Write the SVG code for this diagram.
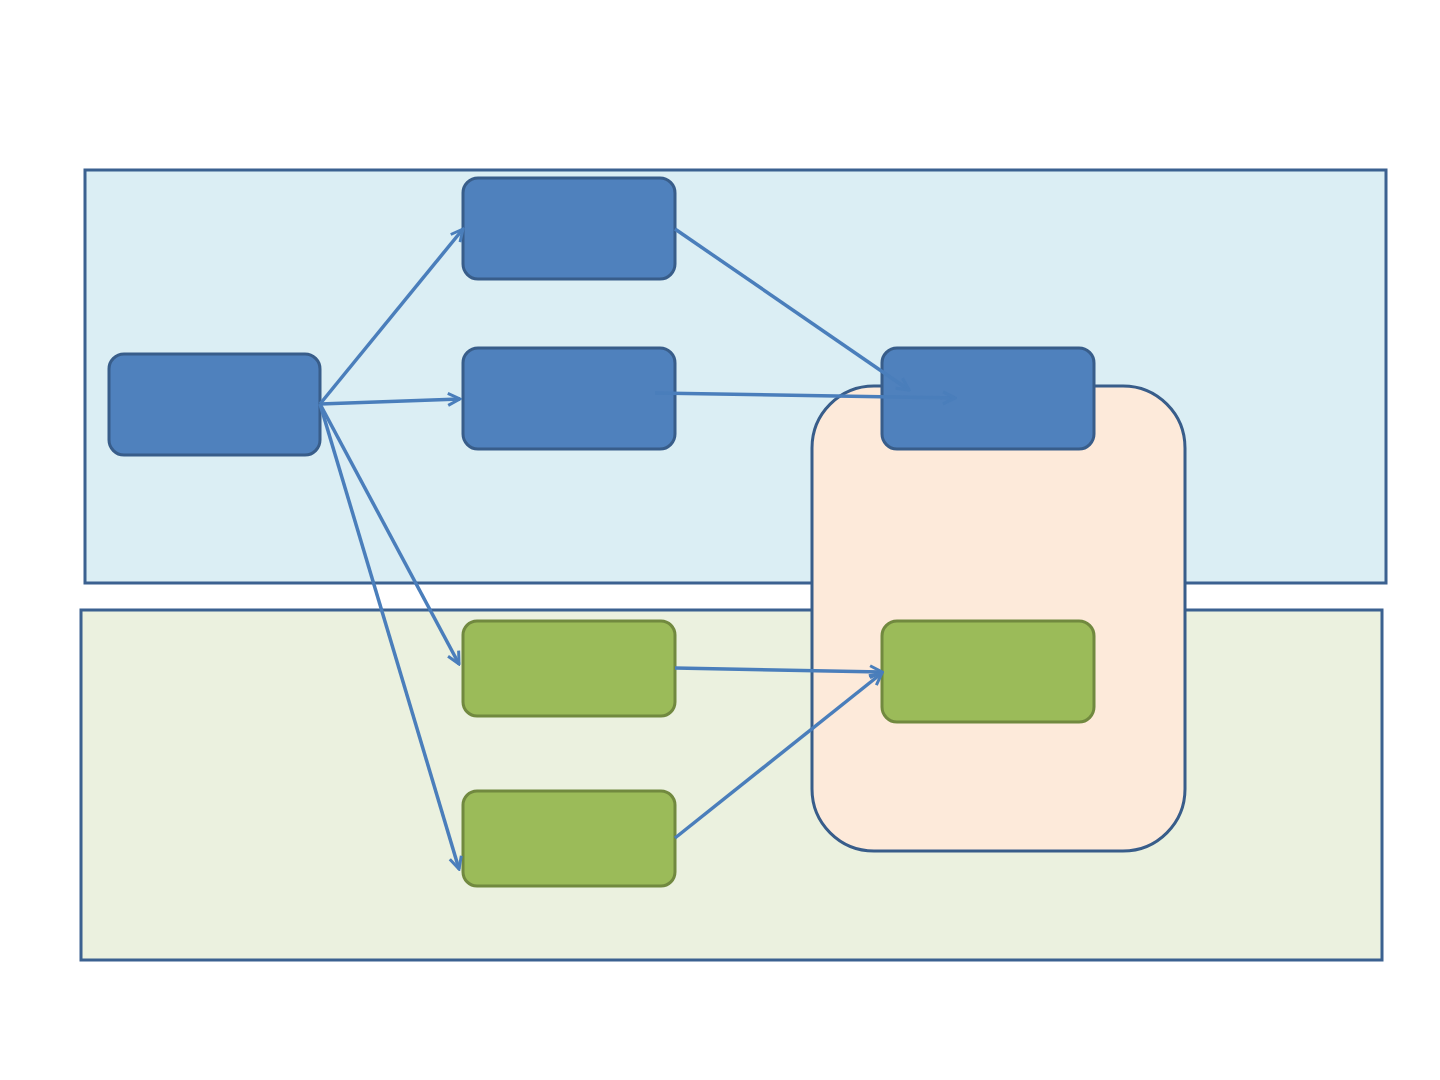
<svg xmlns="http://www.w3.org/2000/svg" width="1440" height="1080" viewBox="0 0 1440 1080">
<style>
.band{stroke:#3B6190;stroke-width:3}
.blue{fill:#4F81BD;stroke:#385D8A;stroke-width:3}
.green{fill:#9BBB59;stroke:#71893F;stroke-width:3}
.peach{fill:#FDEADA;stroke:#385D8A;stroke-width:3}
.conn{stroke:#4A7EBB;stroke-width:3.5;fill:none;marker-end:url(#arr)}
</style>
<defs>
<marker id="arr" viewBox="0 0 16 16" refX="14" refY="8" markerWidth="16" markerHeight="16" markerUnits="userSpaceOnUse" orient="auto">
<path d="M2,2 L14,8 L2,14" fill="none" stroke="#4A7EBB" stroke-width="3"/>
</marker>
</defs>
<rect width="1440" height="1080" fill="#FFFFFF"/>
<g id="band-top"><rect class="band" x="85" y="170" width="1301" height="413" fill="#DBEEF4"/></g>
<g id="band-bottom"><rect class="band" x="81" y="610" width="1301" height="350" fill="#EBF1DF"/></g>
<g id="group-peach"><rect class="peach" x="812" y="386" width="373" height="465" rx="62"/></g>
<g id="node-a"><rect class="blue" x="109" y="354" width="211" height="101" rx="15"/></g>
<g id="node-b1"><rect class="blue" x="463" y="178" width="212" height="101" rx="15"/></g>
<g id="node-b2"><rect class="blue" x="463" y="348" width="212" height="101" rx="15"/></g>
<g id="node-c"><rect class="blue" x="882" y="348" width="212" height="101" rx="15"/></g>
<g id="node-g1"><rect class="green" x="463" y="621" width="212" height="95" rx="14"/></g>
<g id="node-g2"><rect class="green" x="463" y="791" width="212" height="95" rx="14"/></g>
<g id="node-g3"><rect class="green" x="882" y="621" width="212" height="101" rx="15"/></g>
<g id="connectors">
<line class="conn" x1="320" y1="404" x2="463" y2="229"/>
<line class="conn" x1="320" y1="404" x2="460" y2="399"/>
<line class="conn" x1="320" y1="404" x2="459" y2="664"/>
<line class="conn" x1="320" y1="404" x2="459" y2="869"/>
<line class="conn" x1="675" y1="229" x2="909" y2="390"/>
<line class="conn" x1="655" y1="393" x2="955" y2="398"/>
<line class="conn" x1="675" y1="668" x2="882" y2="672"/>
<line class="conn" x1="675" y1="838" x2="882" y2="673"/>
</g>
</svg>
